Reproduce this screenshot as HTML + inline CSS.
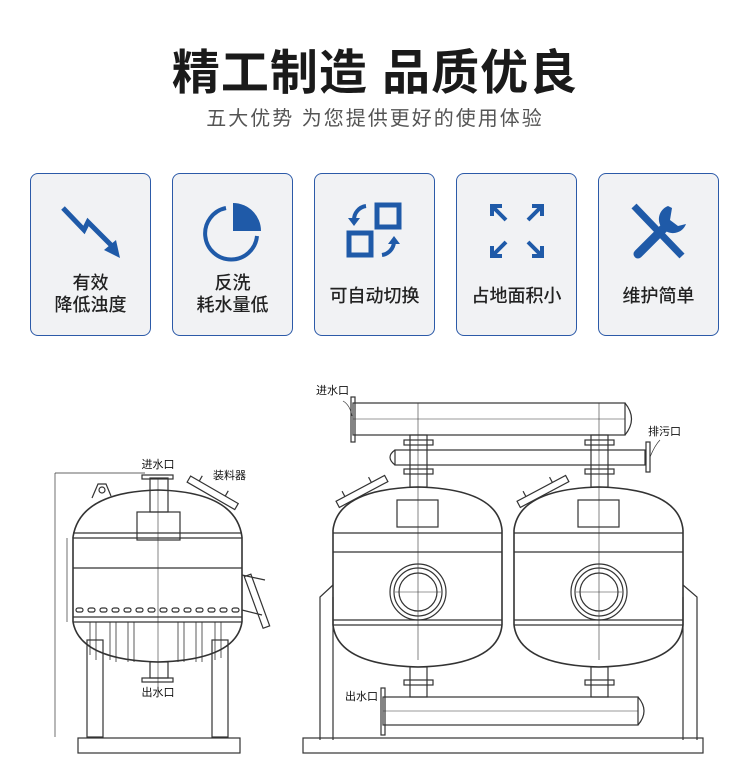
<!DOCTYPE html>
<html><head><meta charset="utf-8"><style>
body{margin:0;width:750px;height:773px;background:#fff;position:relative;overflow:hidden;font-family:"Liberation Sans","Noto Sans CJK SC",sans-serif}
.t{position:absolute;left:0;width:750px;text-align:center;font-weight:bold;font-size:48px;top:33px;color:#1a1a1a;letter-spacing:1px}
.s{position:absolute;left:0;width:750px;text-align:center;font-size:20px;top:102px;color:#555;letter-spacing:2px}
.c{position:absolute;top:173px;width:119px;height:161px;border:1.5px solid #2c5aa8;border-radius:8px;background:#f1f2f4}
.c svg{position:absolute;left:29px;top:26px}
.c p{position:absolute;left:0;right:0;margin:0;text-align:center;font-size:18px;line-height:22px;color:#222;font-weight:500}
</style></head><body>
<div class="t">精工制造 品质优良</div>
<div class="s">五大优势 为您提供更好的使用体验</div>

<div class="c" style="left:30px"><svg width="62" height="62" viewBox="0 0 62 62"><polyline points="3,8 24,30 28,22 52,46" fill="none" stroke="#1f5aa8" stroke-width="5"/><polygon points="44,50 60,58 56,40" fill="#1f5aa8"/></svg><p style="top:98px">有效<br>降低浊度</p></div>
<div class="c" style="left:172px"><svg width="62" height="62" viewBox="0 0 62 62"><path d="M24 8 A26 26 0 1 0 55 36" fill="none" stroke="#1f5aa8" stroke-width="4"/><path d="M31 3 A28 28 0 0 1 59 31 L31 31 Z" fill="#1f5aa8"/></svg><p style="top:98px">反洗<br>耗水量低</p></div>
<div class="c" style="left:314px"><svg width="62" height="62" viewBox="0 0 62 62"><rect x="33" y="5" width="22" height="22" fill="none" stroke="#1f5aa8" stroke-width="5"/><rect x="5" y="33" width="22" height="22" fill="none" stroke="#1f5aa8" stroke-width="5"/><path d="M22 6 A14 14 0 0 0 10 20" fill="none" stroke="#1f5aa8" stroke-width="4"/><polygon points="4,18 16,18 10,26" fill="#1f5aa8"/><path d="M38 55 A14 14 0 0 0 50 42" fill="none" stroke="#1f5aa8" stroke-width="4"/><polygon points="44,44 56,44 50,36" fill="#1f5aa8"/></svg><p style="top:111px">可自动切换</p></div>
<div class="c" style="left:456px"><svg width="62" height="62" viewBox="0 0 62 62" stroke="#1f5aa8" stroke-width="4" fill="none"><path d="M6 16V6H16M6 6L20 20M56 16V6H46M56 6L42 20M6 46V56H16M6 56L20 42M56 46V56H46M56 56L42 42"/></svg><p style="top:111px">占地面积小</p></div>
<div class="c" style="left:598px"><svg width="62" height="62" viewBox="0 0 62 62"><line x1="6" y1="6" x2="54" y2="56" stroke="#1f5aa8" stroke-width="7"/><line x1="10" y1="54" x2="38" y2="26" stroke="#1f5aa8" stroke-width="9" stroke-linecap="round"/><path d="M40 6 A14 14 0 1 0 58 24 L50 26 L42 20 L44 8 Z" fill="#1f5aa8"/></svg><p style="top:111px">维护简单</p></div>

<svg style="position:absolute;left:0;top:0" width="750" height="773" viewBox="0 0 750 773" fill="none" stroke="#333" stroke-width="1.2" font-family="Liberation Sans, Noto Sans CJK SC, sans-serif">
<line x1="55" y1="473" x2="55" y2="737" stroke-width="0.7"/>
<line x1="55" y1="473" x2="145" y2="473" stroke-width="0.7"/>
<line x1="67" y1="538" x2="67" y2="622" stroke-width="0.7"/>
<path d="M73 537 Q80 492 158 490 Q236 492 242 537" stroke-width="1.6"/>
<path d="M73 622 Q80 660 158 662 Q236 660 242 622" stroke-width="1.6"/>
<line x1="73" y1="537" x2="73" y2="622" stroke-width="1.6"/>
<line x1="242" y1="537" x2="242" y2="622" stroke-width="1.6"/>
<line x1="73" y1="533" x2="242" y2="533"/><line x1="73" y1="538" x2="242" y2="538"/>
<line x1="73" y1="568" x2="242" y2="568"/>
<line x1="73" y1="617" x2="242" y2="617"/><line x1="73" y1="622" x2="242" y2="622"/>
<line x1="158" y1="478" x2="158" y2="690" stroke-width="0.6"/>
<rect x="150" y="478" width="18" height="34"/><rect x="137" y="512" width="43" height="28"/>
<rect x="142" y="475" width="31" height="4"/>
<rect x="150" y="662" width="18" height="16"/><rect x="142" y="678" width="31" height="4"/>
<path d="M92 498 L98 484 L106 484 L111 496" /><circle cx="102" cy="490" r="3"/>
<g transform="rotate(30 212 493)"><rect x="185" y="489" width="55" height="7"/><line x1="195" y1="489" x2="195" y2="483"/><line x1="225" y1="489" x2="225" y2="483"/></g>
<g transform="rotate(70 256 600)"><rect x="230" y="596" width="55" height="7"/></g>
<line x1="242" y1="575" x2="265" y2="580"/><line x1="242" y1="610" x2="262" y2="615"/>
<g fill="#fff">
<rect x="76" y="608" width="7" height="4" rx="2"/><rect x="88" y="608" width="7" height="4" rx="2"/><rect x="100" y="608" width="7" height="4" rx="2"/><rect x="112" y="608" width="7" height="4" rx="2"/><rect x="124" y="608" width="7" height="4" rx="2"/><rect x="136" y="608" width="7" height="4" rx="2"/><rect x="148" y="608" width="7" height="4" rx="2"/><rect x="160" y="608" width="7" height="4" rx="2"/><rect x="172" y="608" width="7" height="4" rx="2"/><rect x="184" y="608" width="7" height="4" rx="2"/><rect x="196" y="608" width="7" height="4" rx="2"/><rect x="208" y="608" width="7" height="4" rx="2"/><rect x="220" y="608" width="7" height="4" rx="2"/><rect x="232" y="608" width="7" height="4" rx="2"/>
</g>
<g stroke-width="0.8"><path d="M90 622V655M96 622V660M110 622V660M116 622V662M128 622V662M134 622V662M178 622V662M184 622V662M196 622V662M202 622V662M215 622V660M221 622V658"/></g>
<rect x="87" y="640" width="16" height="97"/><rect x="212" y="640" width="16" height="97"/>
<rect x="78" y="738" width="162" height="15"/>
<rect x="353" y="403" width="272" height="32"/><path d="M625 403 Q638 419 625 435"/>
<line x1="353" y1="419" x2="625" y2="419" stroke-width="0.6"/>
<rect x="351" y="397" width="4" height="45"/>
<path d="M343 401 Q350 405 352 416" stroke-width="0.7"/>
<rect x="395" y="450" width="250" height="15"/><path d="M395 450 Q385 457 395 465"/>
<rect x="646" y="442" width="4" height="30"/><path d="M650 457 Q655 445 660 440" stroke-width="0.7"/>
<g id="tk">
<path d="M333 530 Q338 489 418 487 Q498 489 502 530" stroke-width="1.6"/>
<path d="M333 625 Q338 665 418 667 Q498 665 502 625" stroke-width="1.6"/>
<line x1="333" y1="530" x2="333" y2="625" stroke-width="1.6"/><line x1="502" y1="530" x2="502" y2="625" stroke-width="1.6"/>
<line x1="333" y1="533" x2="502" y2="533"/><line x1="333" y1="552" x2="502" y2="552"/>
<line x1="333" y1="620" x2="502" y2="620"/><line x1="333" y1="625" x2="502" y2="625"/>
<rect x="397" y="500" width="41" height="27"/>
<rect x="410" y="435" width="17" height="52"/>
<rect x="404" y="440" width="29" height="5"/><rect x="404" y="469" width="29" height="5"/>
<circle cx="418" cy="592" r="28"/><circle cx="418" cy="592" r="24"/><circle cx="418" cy="592" r="19"/>
<line x1="418" y1="403" x2="418" y2="660" stroke-width="0.6"/><line x1="395" y1="592" x2="441" y2="592" stroke-width="0.6"/>
<rect x="410" y="667" width="17" height="30"/><rect x="404" y="680" width="29" height="5"/>
<g transform="rotate(-28 360 493)"><rect x="335" y="489" width="55" height="7"/><line x1="345" y1="489" x2="345" y2="483"/><line x1="375" y1="489" x2="375" y2="483"/></g>
</g>
<use href="#tk" transform="translate(181 0)"/>
<rect x="383" y="697" width="255" height="28"/><path d="M638 697 Q650 711 638 725"/>
<line x1="383" y1="711" x2="638" y2="711" stroke-width="0.6"/>
<rect x="381" y="688" width="4" height="47"/>
<path d="M320 740V597L333 585M333 597V740"/><path d="M697 740V597L683 585M683 597V740"/>
<rect x="303" y="738" width="400" height="15"/>
<g fill="#111" stroke="none" font-size="11">
<text x="158" y="468" text-anchor="middle">进水口</text>
<text x="213" y="479">装料器</text>
<text x="158" y="696" text-anchor="middle">出水口</text>
<text x="316" y="394">进水口</text>
<text x="648" y="435">排污口</text>
<text x="345" y="700">出水口</text>
</g>
</svg>
</body></html>
